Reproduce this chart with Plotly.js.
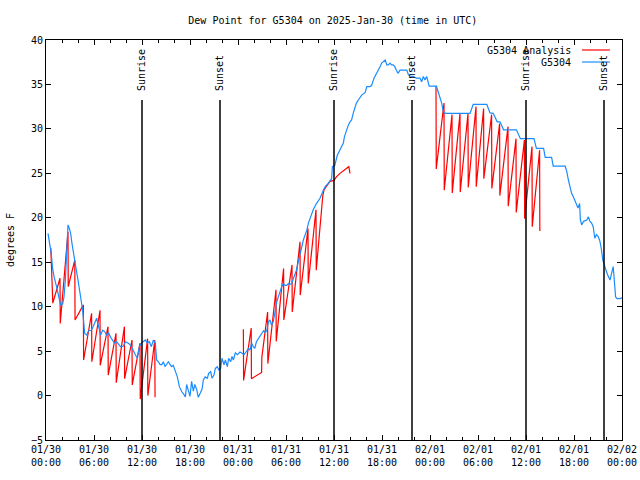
<!DOCTYPE html>
<html>
<head>
<meta charset="utf-8">
<script src="https://cdn.plot.ly/plotly-3.0.1.min.js"></script>
<style>html,body{margin:0;padding:0;background:#fff;}#chart{width:640px;height:480px;}</style>
</head>
<body>
<div id="chart"></div>
<script>
// hours since 2025-01-30 00:00 UTC
var obsHours = [0.25,0.5,0.65,0.83,1.0,1.33,1.58,1.83,2.08,2.25,2.42,2.58,2.75,2.92,3.08,3.25,3.5,3.75,4.0,4.17,4.42,4.58,4.83,5.08,5.33,5.67,5.92,6.17,6.33,6.58,6.83,7.08,7.33,7.58,7.83,8.08,8.33,8.58,8.83,9.08,9.33,9.67,9.92,10.17,10.42,10.67,10.92,11.17,11.42,11.67,11.92,12.17,12.42,12.67,12.92,13.17,13.42,13.67,13.83,14.04,14.25,14.46,14.67,14.875,15.1,15.3,15.5,15.7,15.9,16.125,16.42,16.67,16.96,17.25,17.42,17.58,17.83,18.0,18.2,18.42,18.6,18.83,19.04,19.25,19.5,19.67,19.9,20.17,20.33,20.58,20.75,21.0,21.17,21.42,21.58,21.83,22.0,22.25,22.42,22.67,22.83,23.08,23.25,23.42,23.67,23.92,24.25,24.5,24.75,25.0,25.3,25.5,25.7,25.9,26.1,26.3,26.58,26.75,27.2,27.4,27.6,27.8,28.0,28.2,28.4,28.6,28.8,29.04,29.25,29.46,29.67,29.9,30.1,30.3,30.5,30.7,30.9,31.1,31.3,31.5,31.75,31.96,32.17,32.4,32.6,32.8,33.0,33.2,33.4,33.8,34.25,34.67,34.9,35.3,35.7,35.8,36.1,36.4,36.75,37.0,37.17,37.3,37.5,37.8,38.0,38.2,38.4,38.6,38.8,39.04,39.46,39.9,40.1,40.5,40.7,41.0,41.25,41.5,41.75,41.96,42.2,42.4,42.6,42.8,43.0,43.2,43.4,43.6,43.8,44.0,44.25,44.67,45.1,45.3,45.5,45.9,46.3,46.75,46.96,47.17,47.375,47.58,47.8,47.9,48.8,49.0,49.25,49.46,49.67,49.9,53.0,53.2,53.4,55.1,55.3,55.5,55.9,56.1,56.4,56.75,56.96,57.2,58.8,59.0,59.3,61.0,61.3,62.2,62.4,63.2,63.4,64.9,65.1,65.3,65.5,65.7,65.9,66.1,66.3,66.5,66.7,66.8,66.96,67.2,67.6,67.8,68.0,68.2,68.4,68.6,68.8,69.0,69.2,69.4,69.6,69.8,70.0,70.2,70.5,70.7,70.9,71.0,71.2,71.4,71.75,72.0];
var obsDew = [18.25,17.1,16.0,14.3,13.4,12.2,11.3,10.2,10.3,11.1,13.0,16.75,19.2,18.8,18.25,17.1,15.4,14.3,13.0,11.9,10.75,9.6,7.0,6.8,7.3,7.35,7.8,8.5,8.7,7.75,6.8,7.35,7.2,6.8,7.05,6.55,6.25,5.9,6.05,5.8,5.5,5.55,6.05,5.95,5.8,5.5,4.95,4.6,4.2,5.5,5.9,6.05,6.25,5.9,6.05,5.5,6.25,5.9,4.0,3.8,3.5,3.45,3.8,3.25,3.6,3.8,3.5,3.25,3.4,2.9,2.1,1.0,0.45,0.1,-0.15,1.25,0.45,-0.1,1.6,0.5,1.25,0.7,-0.2,0.3,0.7,1.75,2.1,1.95,2.5,2.7,1.95,2.3,3.05,3.25,2.9,3.05,4.2,3.45,4.0,3.25,4.2,3.8,4.4,4.0,4.8,4.6,4.9,4.75,4.6,4.9,5.3,5.1,5.9,5.5,5.3,6.05,6.4,6.6,7.3,7.1,7.3,8.3,8.5,7.9,8.3,9.25,10.4,11.1,11.7,12.25,12.6,12.4,12.4,12.6,12.5,12.6,13.1,13.5,14.1,14.9,16.0,16.75,17.5,18.1,18.6,19.4,19.9,20.3,20.9,21.6,22.2,23.1,23.5,23.9,24.4,25.75,25.9,27.0,27.7,28.0,28.4,29.1,29.7,30.45,30.8,31.0,31.75,32.3,32.9,33.25,33.8,34.1,34.75,34.75,34.9,35.7,36.2,36.6,37.0,37.4,37.6,37.75,37.2,37.2,37.4,37.2,37.2,37.0,36.6,36.25,36.6,36.6,36.6,36.1,35.95,35.9,35.7,35.7,35.3,35.9,35.5,35.9,35.1,34.8,34.8,34.3,33.6,32.9,31.9,31.75,31.75,32.3,32.75,32.75,32.3,31.8,31.75,31.4,30.8,30.8,30.4,29.9,29.9,29.5,28.9,28.9,27.8,27.8,26.8,26.8,25.8,25.8,25.2,24.25,23.5,22.75,22.4,21.9,21.4,21.1,21.6,19.75,19.2,19.6,19.75,20.1,19.6,19.4,19.0,17.7,18.1,17.9,17.5,16.6,15.25,14.5,14.1,13.6,13.0,13.75,14.5,13.4,11.1,10.9,10.9,11.0];

var anaHours = [0.6,0.75,0.85,1.75,1.78,2.75,2.78,3.6,3.63,4.67,4.7,5.7,5.73,6.75,6.78,7.75,7.78,8.75,8.78,9.8,9.83,10.75,10.78,11.75,11.78,12.7,12.73,13.6,13.63,
  null,
  24.67,24.7,25.65,25.68,26.95,26.98,27.7,27.73,28.75,28.78,29.7,29.73,30.75,30.78,31.75,31.78,32.75,32.78,33.75,33.78,34.6,34.75,35.1,35.5,36.0,36.3,36.75,37.2,37.6,37.85,38.0,
  null,
  48.75,48.78,49.75,49.78,50.75,50.78,51.75,51.78,52.75,52.78,53.75,53.78,54.7,54.73,55.7,55.73,56.7,56.73,57.75,57.78,58.75,58.78,59.8,59.83,60.75,60.78,61.7,61.73];
var anaDew = [16.6,13.4,10.4,13.2,8.1,18.4,12.25,15.25,8.5,10.2,4.0,9.25,3.8,9.6,3.4,7.75,2.3,7.0,1.45,7.75,1.9,6.25,1.2,5.9,-0.4,6.4,0.0,6.25,-0.2,
  null,
  7.45,1.7,7.6,1.9,2.6,4.3,9.4,3.6,11.9,6.1,14.3,8.5,14.7,9.4,17.3,11.3,18.8,12.6,20.9,14.1,22.5,23.1,23.6,24.1,24.2,24.6,25.0,25.3,25.6,25.75,25.0,
  null,
  34.8,25.5,32.9,23.1,31.6,22.8,31.75,22.9,31.75,23.4,32.5,23.5,32.3,24.4,31.6,23.3,30.6,22.5,30.25,21.3,28.9,20.6,28.75,19.9,28.0,19.0,27.6,18.5];

var sunHours = [12, 21.75, 36, 45.75, 60, 69.75];
var sunLabels = ["Sunrise","Sunset","Sunrise","Sunset","Sunrise","Sunset"];

var tickHours = [0,6,12,18,24,30,36,42,48,54,60,66,72];
var tickLabels = ["01/30<br>00:00","01/30<br>06:00","01/30<br>12:00","01/30<br>18:00","01/31<br>00:00","01/31<br>06:00","01/31<br>12:00","01/31<br>18:00","02/01<br>00:00","02/01<br>06:00","02/01<br>12:00","02/01<br>18:00","02/02<br>00:00"];
var yTicks = [-5,0,5,10,15,20,25,30,35,40];

var seriesNames = ["G5304 Analysis", "G5304"];
var seriesColors = ["#ff0000", "#1a8cff"];

var FONT = "DejaVu Sans Mono, monospace";

var traces = [
  {x: anaHours, y: anaDew, type: "scatter", mode: "lines", name: seriesNames[0],
   line: {color: seriesColors[0], width: 1.2}, connectgaps: false},
  {x: obsHours, y: obsDew, type: "scatter", mode: "lines", name: seriesNames[1],
   line: {color: seriesColors[1], width: 1.2}}
];

var shapes = [];
var annotations = [];
sunHours.forEach(function(h, i) {
  shapes.push({type: "line", xref: "x", yref: "paper", x0: h, x1: h, y0: 0, y1: 0.85,
               line: {color: "#000", width: 1.5}});
  annotations.push({xref: "x", yref: "paper", x: h, y: 0.8675, text: sunLabels[i],
                    textangle: -90, showarrow: false, xanchor: "center", yanchor: "bottom",
                    font: {family: FONT, size: 10, color: "#000"}});
});
// legend (gnuplot style: text left, sample right)
var legY = [0.975, 0.945];
seriesNames.forEach(function(n, i) {
  annotations.push({xref: "paper", yref: "paper", x: 0.915, y: legY[i], text: n,
                    showarrow: false, xanchor: "right", yanchor: "middle",
                    font: {family: FONT, size: 10, color: "#000"}});
  shapes.push({type: "line", xref: "paper", yref: "paper", x0: 0.9306, x1: 0.979,
               y0: legY[i], y1: legY[i], line: {color: seriesColors[i], width: 1.2}});
});

var layout = {
  width: 640, height: 480,
  margin: {l: 46, r: 18, t: 40, b: 40},
  paper_bgcolor: "#fff", plot_bgcolor: "#fff",
  showlegend: false,
  font: {family: FONT, size: 10, color: "#000"},
  title: {text: "Dew Point for G5304 on 2025-Jan-30 (time in UTC)", x: 0.52, xanchor: "center",
          y: 0.958, yanchor: "middle", font: {family: FONT, size: 10, color: "#000"}},
  xaxis: {range: [0, 72], tickmode: "array", tickvals: tickHours, ticktext: tickLabels,
          showgrid: false, zeroline: false, showline: true, linecolor: "#000", linewidth: 1,
          mirror: "allticks", ticks: "inside", ticklen: 5, tickcolor: "#000",
          minor: {tickmode: "linear", tick0: 0, dtick: 2, ticks: "inside", ticklen: 3, tickcolor: "#000", showgrid: false},
          tickfont: {family: FONT, size: 10, color: "#000"}, fixedrange: true},
  yaxis: {range: [-5, 40], tickmode: "array", tickvals: yTicks,
          showgrid: false, zeroline: false, showline: true, linecolor: "#000", linewidth: 1,
          mirror: "allticks", ticks: "inside", ticklen: 5, tickcolor: "#000",
          tickfont: {family: FONT, size: 10, color: "#000"},
          title: {text: "degrees F", standoff: 14, font: {family: FONT, size: 10, color: "#000"}},
          fixedrange: true},
  shapes: shapes,
  annotations: annotations
};

Plotly.newPlot("chart", traces, layout, {staticPlot: true, displayModeBar: false});
</script>
</body>
</html>
